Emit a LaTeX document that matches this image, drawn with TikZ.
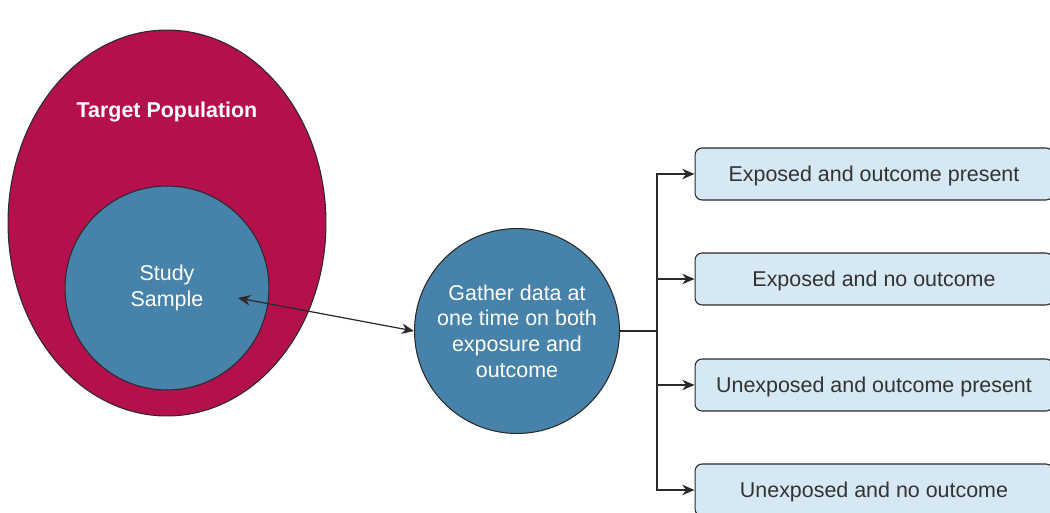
\documentclass[tikz,border=0pt]{standalone}
\usepackage{fontspec}
\setmainfont{Liberation Sans}
\usetikzlibrary{shapes.geometric,arrows.meta}
\definecolor{crimson}{HTML}{B5104E}
\definecolor{steel}{HTML}{4682A9}
\definecolor{boxfill}{HTML}{D5E8F3}
\definecolor{txtgray}{HTML}{333333}
\definecolor{edgegray}{HTML}{2A2A2A}
\begin{document}
\begin{tikzpicture}[x=0.02cm,y=-0.02cm,
  every node/.style={font=\fontsize{12.2}{14.6}\selectfont},
  bigell/.style={ellipse,draw=edgegray,line width=0.6pt,fill=crimson,minimum width=6.36cm,minimum height=7.72cm,inner sep=0pt},
  circ/.style={circle,draw=edgegray,line width=0.6pt,fill=steel,minimum size=4.1cm,inner sep=0pt,text=white,align=center},
  outbox/.style={rectangle,rounded corners=4pt,draw=edgegray,line width=0.6pt,fill=boxfill,minimum width=7.16cm,minimum height=1.04cm,text=txtgray,inner sep=0pt,text depth=0pt},
  conn/.style={draw=edgegray,line width=0.7pt},
  tip/.style={-{Stealth[length=7pt,width=6pt]}}
]
\useasboundingbox (0,0) rectangle (1050,513);
\node[bigell] (pop) at (167,223) {};
\node[font=\fontsize{12.2}{14.6}\selectfont\bfseries,text=white] (poplabel) at (167,112) {Target Population};
\node[circ,minimum size=4.08cm] (sample) at (167,288) {Study\\Sample};
\node[circ] (gather) at (517,331) {Gather data at\\one time on both\\exposure and\\outcome};
\coordinate (sampin) at (238,298);
\draw[conn,{Stealth[length=7pt,width=6pt]}-{Stealth[length=7pt,width=6pt]}] (sampin) -- (gather.west);
\node[outbox] (b1) at (874,174) {Exposed and outcome present};
\node[outbox] (b2) at (874,279) {Exposed and no outcome};
\node[outbox] (b3) at (874,385) {Unexposed and outcome present};
\node[outbox] (b4) at (874,490) {Unexposed and no outcome};
\coordinate (split) at (657,331);
\draw[conn] (gather.east) -- (split);
\draw[conn,tip] (split) |- (b1.west);
\draw[conn,tip] (split) |- (b2.west);
\draw[conn,tip] (split) |- (b3.west);
\draw[conn,tip] (split) |- (b4.west);
\end{tikzpicture}
\end{document}
